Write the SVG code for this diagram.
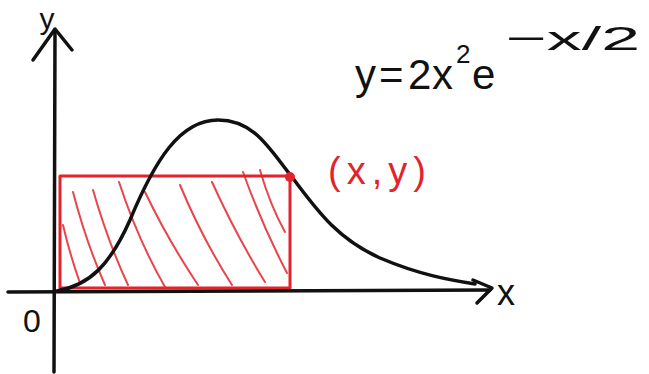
<svg xmlns="http://www.w3.org/2000/svg" width="649" height="374" viewBox="0 0 649 374">
<style>
.ink{fill:none;stroke:#111;stroke-width:3.5;stroke-linecap:round;stroke-linejoin:round}
.red{fill:none;stroke:#e2232b;stroke-width:3;stroke-linecap:round;stroke-linejoin:round}
.hatch{fill:none;stroke:#e8454c;stroke-width:2;stroke-linecap:round}
.lbl{font-family:"Liberation Sans",Arial,sans-serif;fill:#111}
.rlbl{font-family:"Liberation Sans",Arial,sans-serif;fill:#e2232b}
</style>
<rect width="649" height="374" fill="#fff"/>
<g id="hatching">
<path class="hatch" d="M63,225 Q70,255 80,283"/>
<path class="hatch" d="M73,192 Q86,242 105,285"/>
<path class="hatch" d="M93,190 Q108,242 128,285"/>
<path class="hatch" d="M119,182 Q138,240 165,287"/>
<path class="hatch" d="M145,192 Q168,240 198,285"/>
<path class="hatch" d="M180,185 Q202,238 232,285"/>
<path class="hatch" d="M212,182 Q236,235 265,282"/>
<path class="hatch" d="M243,172 Q262,225 287,273"/>
<path class="hatch" d="M260,170 Q270,205 285,232"/>
</g>
<g id="rectangle">
<rect class="red" x="60" y="176" width="230" height="112"/>
</g>
<g id="axes">
<path class="ink" d="M54,372 L55,30"/>
<path class="ink" d="M33,60 L55,29 L72,50"/>
<path class="ink" d="M8,292 L490,290"/>
<path class="ink" d="M473,280 L492,288 L477,303"/>
</g>
<g id="curve">
<path class="ink" d="M57,291 C90,285 110,265 130,220 C155,160 180,120 218,120 C255,120 270,150 292,177 C320,215 340,240 380,258 C420,275 450,280 475,284"/>
</g>
<g id="point">
<circle cx="290" cy="177" r="5" fill="#e2232b"/>
</g>
<g id="labels">
<text class="lbl" x="47" y="29" font-size="30" text-anchor="middle">y</text>
<text class="lbl" x="506" y="305" font-size="36" text-anchor="middle">x</text>
<text class="lbl" x="32" y="332" font-size="32" text-anchor="middle">0</text>
<text class="rlbl" x="328" y="184" font-size="38" textLength="98" lengthAdjust="spacing">(x,y)</text>
<text class="lbl" font-size="42"><tspan x="355" y="89">y</tspan><tspan x="379" y="89">=</tspan><tspan x="408" y="89">2</tspan><tspan x="432" y="89">x</tspan><tspan x="456" y="63" font-size="26">2</tspan><tspan x="472" y="89">e</tspan></text>
<text class="lbl" x="506" y="50" font-size="34" textLength="134" lengthAdjust="spacingAndGlyphs">−x/2</text>
</g>
</svg>
